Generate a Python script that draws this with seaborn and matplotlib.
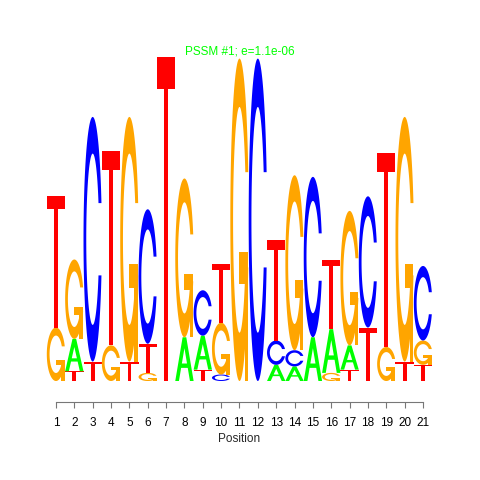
import matplotlib
matplotlib.use("Agg")
import numpy as np
import matplotlib.pyplot as plt
import seaborn as sns
from matplotlib.patches import Polygon

# information content (bits) per letter, positions 1..21
positions = list(range(1, 22))
A = [0.00, 0.20, 0.00, 0.00, 0.00, 0.00, 0.00, 0.27, 0.21, 0.00, 0.00,
     0.00, 0.10, 0.09, 0.27, 0.27, 0.15, 0.00, 0.00, 0.00, 0.00]
C = [0.00, 0.00, 1.51, 0.00, 0.00, 0.83, 0.00, 0.00, 0.28, 0.04, 0.00,
     1.99, 0.15, 0.10, 0.99, 0.00, 0.00, 0.81, 0.00, 0.00, 0.46]
G = [0.33, 0.49, 0.00, 0.22, 1.51, 0.05, 0.00, 0.98, 0.00, 0.32, 1.99,
     0.00, 0.00, 1.08, 0.00, 0.05, 0.83, 0.00, 0.21, 1.51, 0.15]
T = [0.81, 0.06, 0.12, 1.20, 0.12, 0.18, 2.00, 0.00, 0.07, 0.36, 0.00,
     0.00, 0.62, 0.00, 0.00, 0.43, 0.07, 0.33, 1.20, 0.12, 0.10]

colors = {"A": "#00ff00", "C": "#0000ff", "G": "#ffa500", "T": "#ff0000"}
title = "PSSM #1; e=1.1e-06"


# letter outlines in a unit box (seqLogo style polygons)
def ring_shape():
    a1 = np.linspace(0.3 + np.pi / 2, np.pi, 100)
    a2 = np.linspace(np.pi, 1.5 * np.pi, 100)
    xl = np.concatenate([0.5 + 0.5 * np.sin(a1), 0.5 + 0.5 * np.sin(a2)])
    yl = np.concatenate([0.5 + 0.5 * np.cos(a1), 0.5 + 0.5 * np.cos(a2)])
    top = (0.5 + 0.5 * np.cos(a1)).max()
    x = np.concatenate([xl, xl[::-1]])
    y = np.concatenate([yl, 1 - yl[::-1]])
    xi1 = 0.5 + 0.35 * np.sin(a1)
    yi1 = 0.5 + 0.35 * np.cos(a1)
    keep = yi1 <= top
    xi1, yi1 = xi1[keep], yi1[keep].copy()
    yi1[0] = top
    xi = np.concatenate([xi1, 0.5 + 0.35 * np.sin(a2)])
    yi = np.concatenate([yi1, 0.5 + 0.35 * np.cos(a2)])
    x1 = np.concatenate([xi, xi[::-1]])
    y1 = np.concatenate([yi, 1 - yi[::-1]])
    return np.concatenate([x, x1[::-1]]), np.concatenate([y, y1[::-1]])


cx, cy = ring_shape()
r1 = (0.5 + 0.5 * np.sin(np.linspace(0.3 + np.pi / 2, np.pi, 100))).max()
shapes = {
    "A": [(np.array([0, 4, 6, 10, 8, 6.8, 3.2, 2, 0]) * 0.1,
           np.array([0, 10, 10, 0, 0, 3, 3, 0, 0]) * 0.1, None),
          (np.array([3.6, 5, 6.4, 3.6]) * 0.1,
           np.array([4, 7.5, 4, 4]) * 0.1, "white")],
    "C": [(cx, cy, None)],
    "G": [(cx, cy, None),
          (np.array([r1, 0.5, 0.5, r1 - 0.2, r1 - 0.2, r1, r1]),
           np.array([0.4, 0.4, 0.3, 0.3, 0, 0, 0.4]), None)],
    "T": [(np.array([0, 10, 10, 6, 6, 4, 4, 0]) * 0.1,
           np.array([10, 10, 9, 9, 0, 0, 9, 9]) * 0.1, None)],
}


def draw_letter(ax, base, x, y0, h):
    for sx, sy, fill in shapes[base]:
        xy = np.column_stack([x - 0.5 + sx, y0 + h * sy])
        ax.add_patch(Polygon(xy, closed=True, facecolor=fill or colors[base],
                             edgecolor='none', clip_on=False))


sns.set_style("white")
plt.rcParams['font.family'] = ['Liberation Sans', 'DejaVu Sans']

fig = plt.figure(figsize=(4.8, 4.8), dpi=100)
ax = fig.add_axes([46.8 / 480, 99 / 480, 385.4 / 480, 324 / 480])

for i, pos in enumerate(positions):
    stack = sorted([("A", A[i]), ("C", C[i]), ("G", G[i]), ("T", T[i])],
                   key=lambda t: t[1])
    y = 0.0
    for base, h in stack:
        if h > 0:
            draw_letter(ax, base, pos, y, h)
            y += h

ax.set_xlim(0.5, 21.5)
ax.set_ylim(0, 2)
sns.despine(ax=ax, left=True)
ax.set_yticks([])
ax.spines['bottom'].set_position(('outward', 15))
ax.spines['bottom'].set_bounds(1, 21)
ax.spines['bottom'].set_color('#777777')
ax.set_xticks(positions)
ax.set_xticklabels([str(p) for p in positions], fontsize=8.5)
ax.tick_params(axis='x', bottom=True, length=4, color='#777777', pad=7,
               labelcolor='black')
ax.set_xlabel("Position", fontsize=8.5, labelpad=3)

fig.text(0.5, 1 - 52 / 480, title, color='#00ff00', fontsize=8.5,
         ha='center', va='center')

fig.savefig("out.png", dpi=100)
